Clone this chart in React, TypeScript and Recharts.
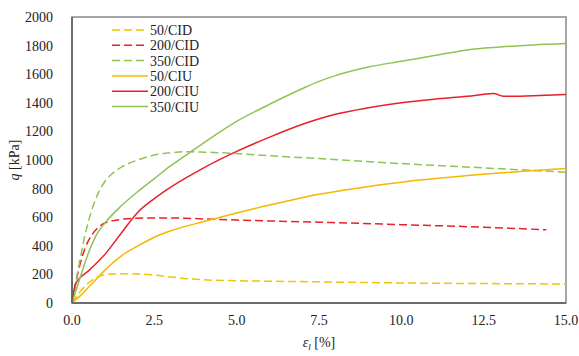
import { LineChart, Line, XAxis, YAxis, ReferenceArea } from 'recharts';

const xTicks = [0, 2.5, 5, 7.5, 10, 12.5, 15];
const yTicks = [0, 200, 400, 600, 800, 1000, 1200, 1400, 1600, 1800, 2000];

const cid50X = [0, 0.25, 0.5, 0.75, 1.0, 1.5, 2, 2.5, 3, 3.5, 4, 5, 6, 7.5, 10, 12.5, 15];
const cid50Y = [0, 80, 140, 180, 198, 205, 203, 195, 182, 170, 162, 156, 152, 148, 140, 136, 133];

const cid200X = [0, 0.2, 0.4, 0.6, 0.8, 1.0, 1.5, 2, 3, 4, 5, 7.5, 10, 12.5, 14.4];
const cid200Y = [0, 230, 385, 475, 530, 560, 585, 593, 595, 588, 580, 565, 548, 530, 512];

const cid350X = [0, 0.2, 0.4, 0.6, 0.8, 1.0, 1.25, 1.5, 2, 2.5, 3, 3.5, 4, 5, 6, 7.5, 10, 12.5, 15];
const cid350Y = [0, 250, 480, 650, 770, 850, 910, 950, 1000, 1035, 1050, 1058, 1055, 1045, 1030, 1010, 975, 945, 915];

const ciu50X = [0, 0.25, 0.5, 0.75, 1.0, 1.5, 2, 2.5, 3, 4, 5, 6, 7.5, 10, 12.5, 15];
const ciu50Y = [0, 50, 110, 170, 230, 330, 400, 460, 505, 570, 630, 685, 760, 845, 900, 940];

const ciu200X = [0, 0.1, 0.2, 0.5, 1, 1.5, 2, 2.5, 3, 3.5, 4, 5, 6, 7, 8, 9, 10, 11, 12, 12.8, 13.1, 14, 15];
const ciu200Y = [0, 130, 165, 225, 340, 490, 635, 730, 810, 880, 945, 1060, 1160, 1250, 1320, 1365, 1400, 1425, 1445, 1465, 1445, 1450, 1458];

const ciu350X = [0, 0.25, 0.5, 0.75, 1, 1.5, 2, 2.5, 3, 3.5, 4, 5, 6, 7, 7.5, 8, 9, 10, 11, 12, 13, 14, 15];
const ciu350Y = [0, 180, 350, 480, 560, 680, 780, 870, 960, 1040, 1120, 1270, 1390, 1500, 1550, 1590, 1650, 1690, 1730, 1770, 1790, 1805, 1815];

const zip = (xs: number[], ys: number[]) => xs.map((x, i) => ({ x, q: ys[i] }));

const series = [
  { name: '50/CID', data: zip(cid50X, cid50Y), color: '#f2c500', dash: '8 4' },
  { name: '200/CID', data: zip(cid200X, cid200Y), color: '#e8202a', dash: '8 4' },
  { name: '350/CID', data: zip(cid350X, cid350Y), color: '#8fc454', dash: '8 4' },
  { name: '50/CIU', data: zip(ciu50X, ciu50Y), color: '#f5b800', dash: undefined },
  { name: '200/CIU', data: zip(ciu200X, ciu200Y), color: '#e8202a', dash: undefined },
  { name: '350/CIU', data: zip(ciu350X, ciu350Y), color: '#8fc454', dash: undefined },
];

const FONT = "'Liberation Serif', 'DejaVu Serif', serif";

// legend drawn as an overlay in the top-left of the plot
const LegendBox = () => (
  <svg width={140} height={100} style={{ position: 'absolute', left: 112, top: 23 }}>
    {series.map((s, i) => (
      <g key={s.name} transform={`translate(0, ${7 + i * 15.3})`}>
        <line x1={0} x2={36} y1={0} y2={0} stroke={s.color} strokeWidth={1.5} strokeDasharray={s.dash} />
        <text x={38} y={5} style={{ fontFamily: FONT }} fontSize={14} fill="#222">
          {s.name}
        </text>
      </g>
    ))}
  </svg>
);

const YLabel = ({ viewBox }: any) => {
  const cx = 14;
  const cy = viewBox.y + viewBox.height / 2;
  return (
    <text x={cx} y={cy} transform={`rotate(-90, ${cx}, ${cy})`} textAnchor="middle" dominantBaseline="central"
      style={{ fontFamily: FONT }} fontSize={14} fill="#222">
      <tspan fontStyle="italic">q</tspan> [kPa]
    </text>
  );
};

const XLabel = ({ viewBox }: any) => {
  const cx = viewBox.x + viewBox.width / 2;
  return (
    <text x={cx} y={347} textAnchor="middle" style={{ fontFamily: FONT }} fontSize={14} fill="#222">
      <tspan fontStyle="italic">ε</tspan>
      <tspan fontStyle="italic" fontSize={9} dy={3}>l</tspan>
      <tspan dy={-3}> [%]</tspan>
    </text>
  );
};

export default function App() {
  return (
    <div style={{ position: 'absolute', left: 0, top: 0, width: 579, height: 356, background: '#fff', fontFamily: FONT }}>
      <LineChart width={579} height={356} margin={{ top: 17, right: 13, left: 0, bottom: 0 }} style={{ fontFamily: FONT }}>
        <ReferenceArea x1={0} x2={15} y1={0} y2={2000} fill="none" stroke="#8a8a8a" strokeWidth={1.5} />
        <XAxis
          type="number"
          dataKey="x"
          domain={[0, 15]}
          ticks={xTicks}
          interval={0}
          tickFormatter={(v: number) => v.toFixed(1)}
          height={53}
          tickLine={false}
          tickMargin={6}
          axisLine={{ stroke: '#595959', strokeWidth: 1.5 }}
          tick={{ fontSize: 14, fill: '#222', style: { fontFamily: FONT } }}
          label={<XLabel />}
        />
        <YAxis
          type="number"
          domain={[0, 2000]}
          ticks={yTicks}
          interval={0}
          width={72}
          tickLine={false}
          tickMargin={13}
          axisLine={{ stroke: '#595959', strokeWidth: 1.5 }}
          tick={{ fontSize: 14, fill: '#222', style: { fontFamily: FONT } }}
          label={<YLabel />}
        />
        {series.map((s) => (
          <Line
            key={s.name}
            data={s.data}
            dataKey="q"
            name={s.name}
            type="monotone"
            stroke={s.color}
            strokeWidth={1.5}
            strokeDasharray={s.dash}
            dot={false}
            activeDot={false}
            isAnimationActive={false}
          />
        ))}
      </LineChart>
      <LegendBox />
    </div>
  );
}
